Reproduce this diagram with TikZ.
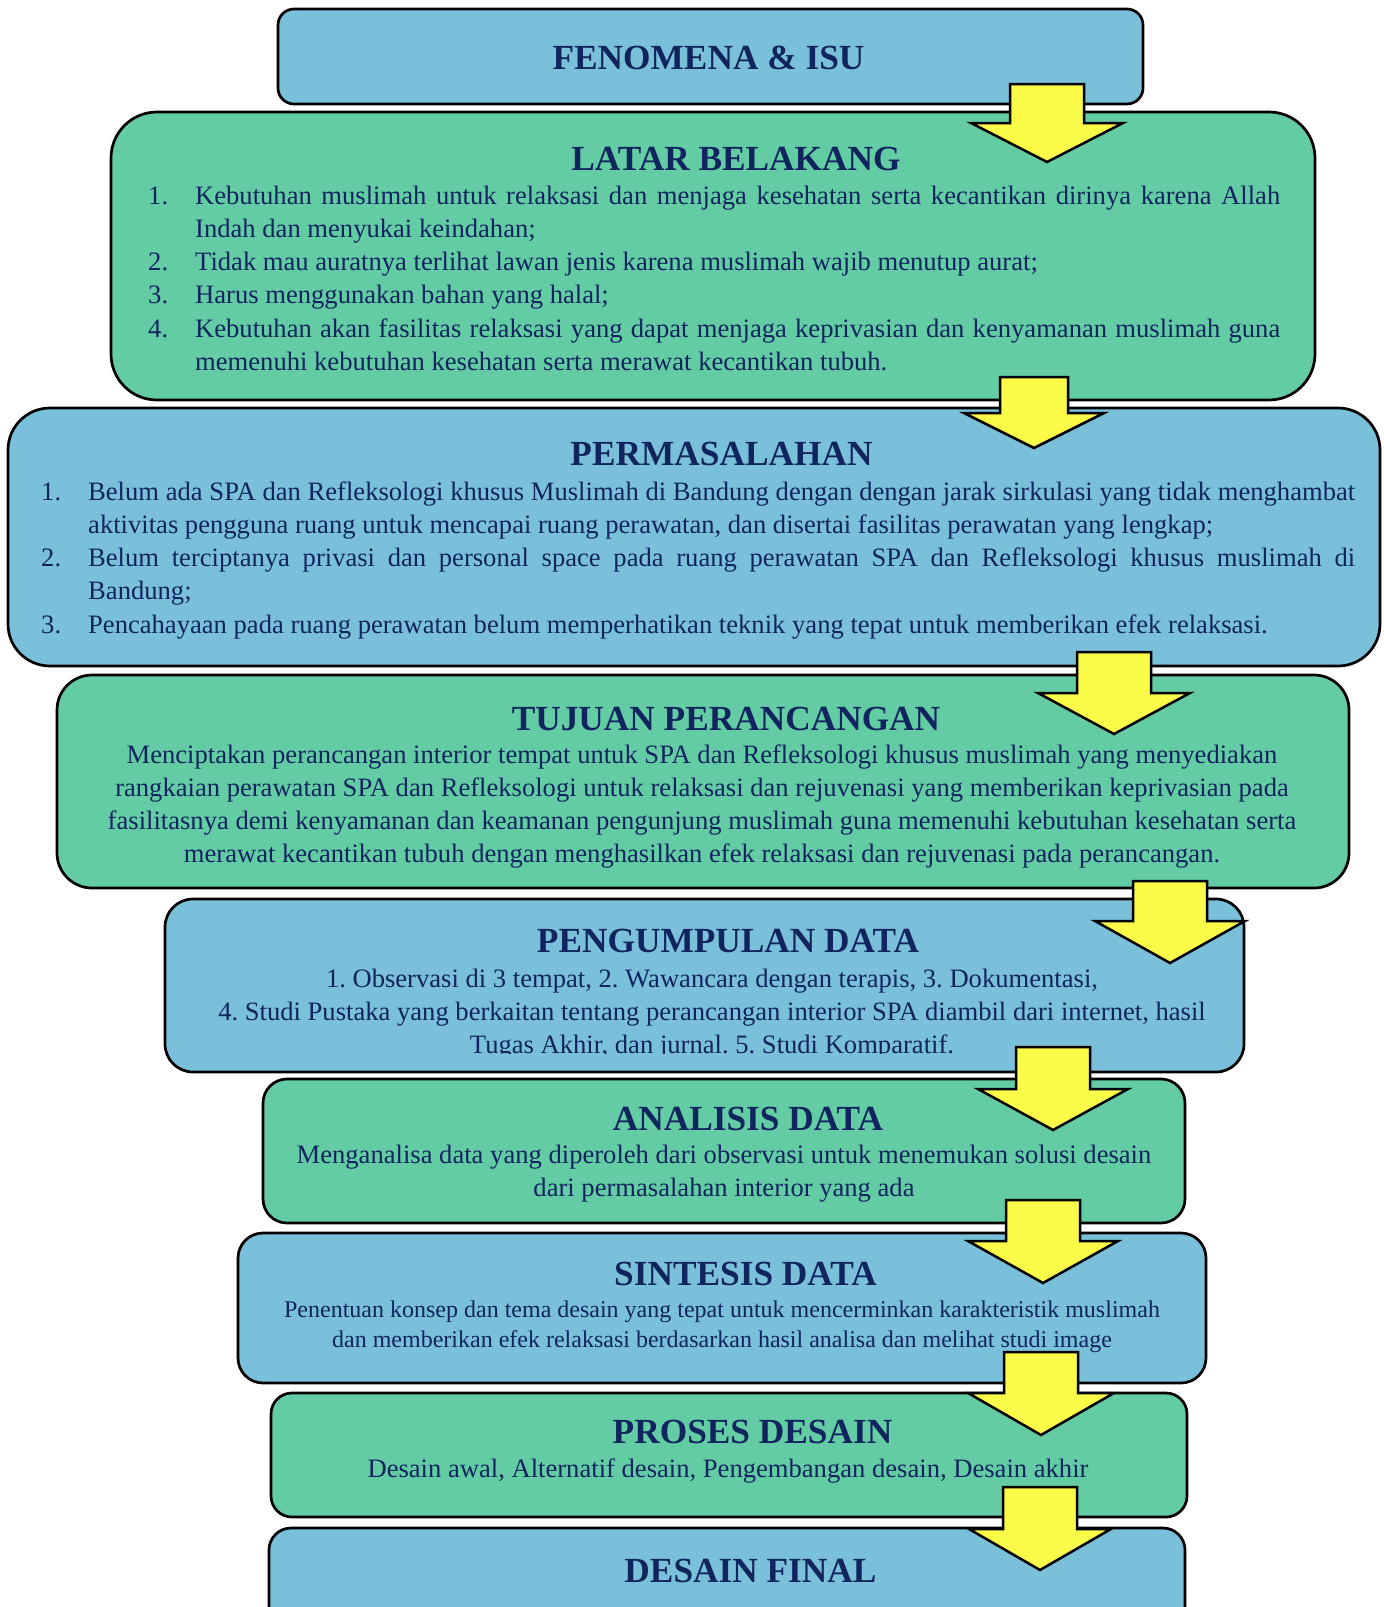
\documentclass[tikz,border=0pt]{standalone}
\usepackage{fontspec}
\setmainfont{Liberation Serif}
\definecolor{boxblue}{RGB}{123,192,218}
\definecolor{boxgreen}{RGB}{99,204,164}
\definecolor{arrowyellow}{RGB}{250,250,72}
\definecolor{navy}{RGB}{16,36,94}
\frenchspacing
\hyphenpenalty=10000
\newcommand{\titlefont}{\fontsize{35.3}{40}\selectfont\bfseries}
\newcommand{\bodyfont}{\fontsize{26.6}{33.2}\selectfont}
\newcommand{\smallbody}{\fontsize{24}{30}\selectfont}
\newcommand{\tight}{\spaceskip=\fontdimen2\font\relax\xspaceskip=\fontdimen2\font\relax}
\newcommand{\numitem}[2]{\hangindent=47pt\hangafter=1\makebox[47pt][l]{\strut#1}#2\par}
\newcommand{\fullline}[2]{\makebox[#1pt][s]{\spaceskip=0pt\xspaceskip=0pt#2}\newline}
\begin{document}
\begin{tikzpicture}
        [x=1pt,y=-1pt,every node/.style={inner sep=0pt,text=navy},
         stage/.style n args={4}{draw=black,line width=2.7pt,fill=#1,minimum width=#2pt,minimum height=#3pt,rounded corners=#4pt},
         heading/.style={font=\titlefont,anchor=base},
         listtext/.style={font=\bodyfont,anchor=north west,text width=#1pt},
         bodytext/.style={font=\bodyfont,anchor=north,text width=#1pt,align=center}]
        \useasboundingbox (0,0) rectangle (1384,1607);
        \node[stage={boxblue}{865}{95}{16}]    (fenomena)    at (710.5,56.5) {};
        \node[stage={boxgreen}{1204}{288}{46}] (latar)       at (713,256)    {};
        \node[stage={boxblue}{1372}{258}{42}]  (masalah)     at (694,537)    {};
        \node[stage={boxgreen}{1292}{213}{35}] (tujuan)      at (703,781.5)  {};
        \node[stage={boxblue}{1079}{173}{28}]  (pengumpulan) at (704.5,985.5) {};
        \node[stage={boxgreen}{922}{144}{24}]  (analisis)    at (724,1151)   {};
        \node[stage={boxblue}{968}{150}{25}]   (sintesis)    at (722,1308)   {};
        \node[stage={boxgreen}{916}{124}{21}]  (proses)      at (729,1455)   {};
        \node[stage={boxblue}{916}{130}{22}]   (final)       at (727,1593)   {};

        \node[heading] (fenomenaT) at (708.5,69) {FENOMENA \& ISU};

        \node[heading] (latarT) at (736,170) {LATAR BELAKANG};
        \node[listtext=1132] (latarL) at (148,180.8) {\tight
          \numitem{1.}{\fullline{1085}{Kebutuhan muslimah untuk relaksasi dan menjaga kesehatan serta kecantikan dirinya karena Allah}Indah dan menyukai keindahan;}%
          \numitem{2.}{Tidak mau auratnya terlihat lawan jenis karena muslimah wajib menutup aurat;}%
          \numitem{3.}{Harus menggunakan bahan yang halal;}%
          \numitem{4.}{\fullline{1085}{Kebutuhan akan fasilitas relaksasi yang dapat menjaga keprivasian dan kenyamanan muslimah guna}memenuhi kebutuhan kesehatan serta merawat kecantikan tubuh.}};

        \node[heading] (masalahT) at (721.5,465) {PERMASALAHAN};
        \node[listtext=1314] (masalahL) at (41,476.8) {\tight
          \numitem{1.}{\fullline{1267}{Belum ada SPA dan Refleksologi khusus Muslimah di Bandung dengan dengan jarak sirkulasi yang tidak menghambat}aktivitas pengguna ruang untuk mencapai ruang perawatan, dan disertai fasilitas perawatan yang lengkap;}%
          \numitem{2.}{\fullline{1267}{Belum terciptanya privasi dan personal space pada ruang perawatan SPA dan Refleksologi khusus muslimah di}Bandung;}%
          \numitem{3.}{Pencahayaan pada ruang perawatan belum memperhatikan teknik yang tepat untuk memberikan efek relaksasi.}};

        \node[heading] (tujuanT) at (726,730) {TUJUAN PERANCANGAN};
        \node[bodytext=1260] (tujuanB) at (702,739.8) {\tight\strut Menciptakan perancangan interior tempat untuk SPA dan Refleksologi khusus muslimah yang menyediakan\\
          rangkaian perawatan SPA dan Refleksologi untuk relaksasi dan rejuvenasi yang memberikan keprivasian pada\\
          fasilitasnya demi kenyamanan dan keamanan pengunjung muslimah guna memenuhi kebutuhan kesehatan serta\\
          merawat kecantikan tubuh dengan menghasilkan efek relaksasi dan rejuvenasi pada perancangan.};

        \node[heading] (pengumpulanT) at (728,952) {PENGUMPULAN DATA};
        \begin{scope}
          \clip (160,895) rectangle (1250,1053);
          \node[bodytext=1060] (pengumpulanB) at (712,963.8) {\tight\strut 1. Observasi di 3 tempat, 2. Wawancara dengan terapis, 3. Dokumentasi,\\
            4. Studi Pustaka yang berkaitan tentang perancangan interior SPA diambil dari internet, hasil\\
            Tugas Akhir, dan jurnal. 5. Studi Komparatif.};
        \end{scope}

        \node[heading] (analisisT) at (748,1130) {ANALISIS DATA};
        \node[bodytext=900] (analisisB) at (724,1139.8) {\tight\strut Menganalisa data yang diperoleh dari observasi untuk menemukan solusi desain\\
          dari permasalahan interior yang ada};

        \node[heading] (sintesisT) at (745.5,1285) {SINTESIS DATA};
        \node[bodytext=950,font=\smallbody] (sintesisB) at (722,1296) {\tight\strut Penentuan konsep dan tema desain yang tepat untuk mencerminkan karakteristik muslimah\\
          dan memberikan efek relaksasi berdasarkan hasil analisa dan melihat studi image};

        \node[heading] (prosesT) at (752.5,1443) {PROSES DESAIN};
        \node[bodytext=900] (prosesB) at (728,1453.8) {\tight\strut Desain awal, Alternatif desain, Pengembangan desain, Desain akhir};

        \node[heading] (finalT) at (750.5,1582) {DESAIN FINAL};

        \foreach \cx/\ty/\hy/\py/\sw/\hw in {1047/84/123/162/37/76,1034/377/413/448/34/70,
            1114/652/693/734/37/76,1170/881/921/963/37/75,1053/1047/1089/1130/37/75,
            1043/1200/1241/1283/37/75,1041/1352/1393/1435/37/73,1040/1487/1529/1570/37/71}
          \draw[line width=2.5pt,fill=arrowyellow] (\cx-\sw,\ty) -- (\cx+\sw,\ty) -- (\cx+\sw,\hy) -- (\cx+\hw,\hy)
            -- (\cx,\py) -- (\cx-\hw,\hy) -- (\cx-\sw,\hy) -- cycle;
      \end{tikzpicture}
\end{document}
